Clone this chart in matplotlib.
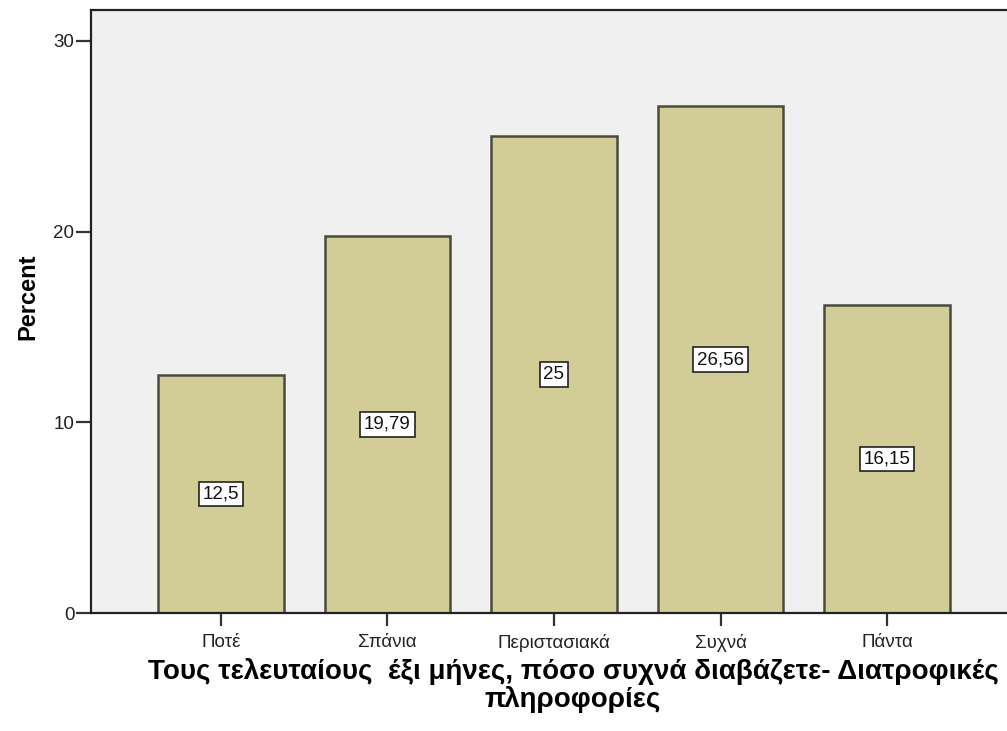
import matplotlib.pyplot as plt

plt.rcParams['font.family'] = ['Liberation Sans', 'DejaVu Sans']

categories = ["Ποτέ", "Σπάνια", "Περιστασιακά", "Συχνά", "Πάντα"]
percent = [12.5, 19.79, 25, 26.56, 16.15]
value_labels = ["12,5", "19,79", "25", "26,56", "16,15"]
y_ticks = [0, 10, 20, 30]

fig = plt.figure(figsize=(10.07, 7.31), dpi=100)
# plot area runs a little past the right edge of the canvas
ax = fig.add_axes([91 / 1007, 118 / 731, 926 / 1007, 603 / 731])
ax.set_facecolor("#f0f0f0")

xs = range(len(categories))
ax.bar(xs, percent, width=0.755, color="#d2cd96", edgecolor="#4a4a3c", linewidth=1.8, zorder=2)

for x, v, lab in zip(xs, percent, value_labels):
    ax.text(x, v / 2, lab, ha="center", va="center", fontsize=13.5, color="#111111", zorder=3,
            bbox=dict(boxstyle="square,pad=0.2", facecolor="white", edgecolor="#222222", linewidth=1.2))

ax.set_xlim(-0.78, 4.78)
ax.set_ylim(0, 31.62)
ax.set_xticks(list(xs))
ax.set_xticklabels(categories, fontsize=13.5, color="#222222")
ax.set_yticks(y_ticks)
ax.set_yticklabels([str(t) for t in y_ticks], fontsize=13.5, color="#222222")
ax.tick_params(axis="y", length=11, width=1.6, pad=1, color="#333333")
ax.tick_params(axis="x", length=9, width=1.6, pad=6, color="#333333")

for side in ["left", "bottom", "top", "right"]:
    ax.spines[side].set_color("#222222")
    ax.spines[side].set_linewidth(1.6)

ax.set_ylabel("Percent", fontsize=17, fontweight="bold")
ax.yaxis.set_label_coords(-0.056, (613 - 297) / 603, transform=ax.transAxes)
ax.set_xlabel("Τους τελευταίους  έξι μήνες, πόσο συχνά διαβάζετε- Διατροφικές\nπληροφορίες",
              fontsize=20, fontweight="bold", linespacing=1.05)
ax.xaxis.set_label_coords((573 - 91) / 926, -0.075, transform=ax.transAxes)
ax.xaxis.label.set_va("top")

fig.savefig("out.png", dpi=100, facecolor="white")
